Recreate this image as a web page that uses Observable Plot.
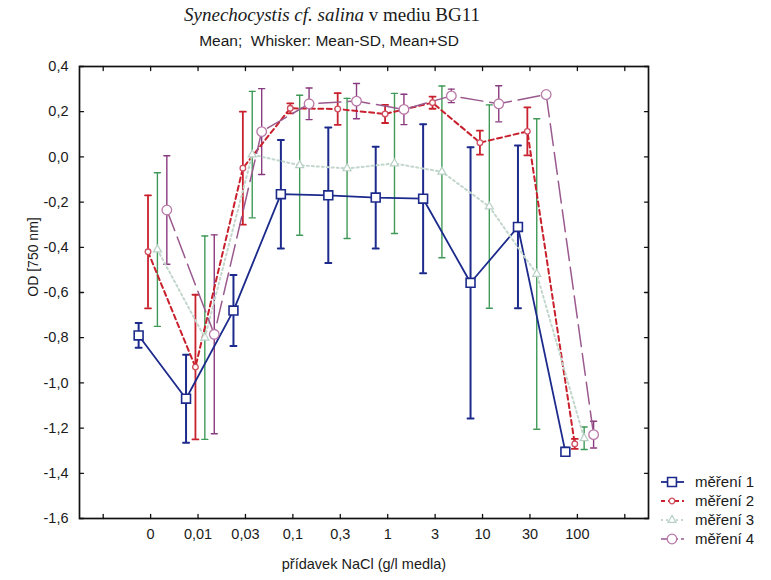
<!DOCTYPE html>
<html><head><meta charset="utf-8">
<script src="https://cdn.jsdelivr.net/npm/d3@7"></script>
<script src="https://cdn.jsdelivr.net/npm/@observablehq/plot@0.6"></script>
<style>
body{margin:0;background:#fff;}
#wrap{position:relative;width:771px;height:580px;font-family:"Liberation Sans",Arial,sans-serif;color:#1a1a1a;overflow:hidden;}
.abs{position:absolute;white-space:nowrap;line-height:1;}
</style></head><body><div id="wrap"></div>
<script>
// ---- data ----
const categories = ["0","0,01","0,03","0,1","0,3","1","3","10","30","100"];
const seriesNames = ["měření 1","měření 2","měření 3","měření 4"];
const mean1 = [-0.79, -1.07, -0.68, -0.165, -0.17, -0.18, -0.185, -0.557, -0.31, -1.305];
const sd1   = [0.055, 0.195, 0.157, 0.24, 0.30, 0.225, 0.33, 0.60, 0.36, 0.018];
const mean2 = [-0.42, -0.93, -0.05, 0.215, 0.212, 0.19, 0.24, 0.063, 0.113, -1.27];
const sd2   = [0.25, 0.32, 0.25, 0.022, 0.07, 0.04, 0.027, 0.053, 0.106, 0.022];
const mean3 = [-0.41, -0.80, 0.01, -0.037, -0.051, -0.029, -0.066, -0.22, -0.518, -1.245];
const sd3   = [0.34, 0.45, 0.28, 0.31, 0.31, 0.31, 0.38, 0.45, 0.687, 0.05];
const mean4 = [-0.235, -0.785, 0.112, 0.235, 0.247, 0.21, 0.27, 0.235, 0.276, -1.229];
const sd4   = [0.24, 0.44, 0.19, 0.07, 0.078, 0.067, 0.03, 0.08, 0.004, 0.059];
const yTicks = [-1.6, -1.4, -1.2, -1.0, -0.8, -0.6, -0.4, -0.2, 0.0, 0.2, 0.4];
const yTickLabels = ["-1,6","-1,4","-1,2","-1,0","-0,8","-0,6","-0,4","-0,2","0,0","0,2","0,4"];
const xTickIdx = [-1,0,1,2,3,4,5,6,7,8,9,10];

// ---- styles ----
const offsets = [-0.253, -0.055, 0.143, 0.342];
const styles = [
  {line:"#1c2a8c", lw:1.8, dash:null, wh:"#1c2a8c", ww:2, sym:"square", r:5, ms:"#1c2a8c", mw:1.6},
  {line:"#c8202c", lw:2, dash:"5,3.5", wh:"#c8202c", ww:1.8, sym:"circle", r:2.8, ms:"#d05060", mw:1.3},
  {line:"#c2d6cc", lw:2, dash:"2,3", wh:"#3f9a58", ww:1.4, sym:"triangle", r:3, ms:"#b8d0c4", mw:1.2},
  {line:"#9a5a8e", lw:1.5, dash:"22,7", wh:"#8a3a7e", ww:1.4, sym:"circle", r:4.8, ms:"#b878a8", mw:1.3}
];
const means = [mean1, mean2, mean3, mean4];
const sds = [sd1, sd2, sd3, sd4];
const rows = means.map((m, s) => m.map((v, i) => ({s, x: i + offsets[s], mean: v, lo: v - sds[s][i], hi: v + sds[s][i]})));

const capShape = {draw(ctx, l) { ctx.moveTo(0, 0); ctx.lineTo(0, -l); }};

const marks = [];
rows.forEach((d, s) => {
  const st = styles[s];
  marks.push(Plot.ruleX(d, {x: "x", y1: "lo", y2: "hi", stroke: st.wh, strokeWidth: st.ww}));
  for (const key of ["lo", "hi"]) {
    marks.push(Plot.vector(d, {x: "x", y: key, rotate: 90, length: 6, anchor: "middle", shape: capShape, stroke: st.wh, strokeWidth: st.ww}));
  }
});
rows.forEach((d, s) => {
  const st = styles[s];
  marks.push(Plot.line(d, {x: "x", y: "mean", stroke: st.line, strokeWidth: st.lw, strokeDasharray: st.dash}));
});
rows.forEach((d, s) => {
  const st = styles[s];
  marks.push(Plot.dot(d, {x: "x", y: "mean", symbol: st.sym, r: st.r, fill: "white", stroke: st.ms, strokeWidth: st.mw}));
});

// ticks (inward) on four sides
marks.push(Plot.vector(xTickIdx, {x: d => d, frameAnchor: "bottom", rotate: 0, length: 4, anchor: "start", shape: capShape, stroke: "#111", strokeWidth: 1.3}));
marks.push(Plot.vector(xTickIdx, {x: d => d, frameAnchor: "top", rotate: 180, length: 4, anchor: "start", shape: capShape, stroke: "#111", strokeWidth: 1.3}));
marks.push(Plot.vector(yTicks, {y: d => d, frameAnchor: "left", rotate: 90, length: 4, anchor: "start", shape: capShape, stroke: "#111", strokeWidth: 1.3}));
marks.push(Plot.vector(yTicks, {y: d => d, frameAnchor: "right", rotate: -90, length: 4, anchor: "start", shape: capShape, stroke: "#111", strokeWidth: 1.3}));
marks.push(Plot.frame({stroke: "#111", strokeWidth: 1.7}));
marks.push(Plot.axisX(categories.map((c, i) => i), {label: null, tickSize: 0, tickPadding: 10, tickFormat: d => categories[Math.round(d)], fontSize: 14.5, fill: "#1a1a1a"}));
marks.push(Plot.axisY(yTicks, {label: null, tickSize: 0, tickPadding: 11, tickFormat: d => yTickLabels[yTicks.findIndex(t => Math.abs(t - d) < 1e-9)], fontSize: 14.5, fill: "#1a1a1a"}));

const chart = Plot.plot({
  width: 771, height: 580,
  marginLeft: 79, marginRight: 123, marginTop: 66, marginBottom: 62,
  x: {domain: [-1.5, 10.5], axis: null, label: null},
  y: {domain: [-1.6, 0.4], axis: null, label: null},
  style: {fontFamily: "'Liberation Sans', Arial, sans-serif", background: "white", overflow: "visible"},
  marks
});
const wrap = document.getElementById("wrap");
wrap.appendChild(chart);
chart.style.position = "absolute"; chart.style.left = "0"; chart.style.top = "0";

// titles
function addText(html, css) {
  const el = document.createElement("div");
  el.className = "abs"; el.innerHTML = html; Object.assign(el.style, css); wrap.appendChild(el); return el;
}
addText('<i>Synechocystis cf. salina</i> v mediu BG11', {left: "332px", top: "5px", transform: "translateX(-50%)", fontFamily: "'Liberation Serif','Times New Roman',serif", fontSize: "19px"});
addText('Mean;&nbsp; Whisker: Mean-SD, Mean+SD', {left: "329px", top: "33px", transform: "translateX(-50%)", fontSize: "15.5px"});
addText('přídavek NaCl (g/l medla)', {left: "364px", top: "557px", transform: "translateX(-50%)", fontSize: "14.5px"});
addText('OD [750 nm]', {left: "33px", top: "257px", transform: "translate(-50%,-50%) rotate(-90deg)", fontSize: "14px"});

// legend
const leg = d3.select(wrap).append("svg").attr("width", 771).attr("height", 580)
  .style("position", "absolute").style("left", "0").style("top", "0").style("pointer-events", "none");
const symMap = {square: d3.symbolSquare, circle: d3.symbolCircle, triangle: d3.symbolTriangle};
seriesNames.forEach((name, s) => {
  const st = styles[s];
  const y = 482 + s * 19;
  leg.append("line").attr("x1", 661).attr("x2", 684).attr("y1", y).attr("y2", y)
    .attr("stroke", st.line).attr("stroke-width", st.lw).attr("stroke-dasharray", s === 3 ? "7,3" : (s === 1 ? "4,3" : st.dash));
  leg.append("path").attr("transform", `translate(672,${y})`)
    .attr("d", d3.symbol(symMap[st.sym], Math.PI * st.r * st.r)())
    .attr("fill", "white").attr("stroke", st.ms).attr("stroke-width", st.mw);
  leg.append("text").attr("x", 695).attr("y", y + 5).text(name)
    .attr("font-family", "'Liberation Sans', Arial, sans-serif").attr("font-size", 15).attr("fill", "#1a1a1a");
});
</script></body></html>
